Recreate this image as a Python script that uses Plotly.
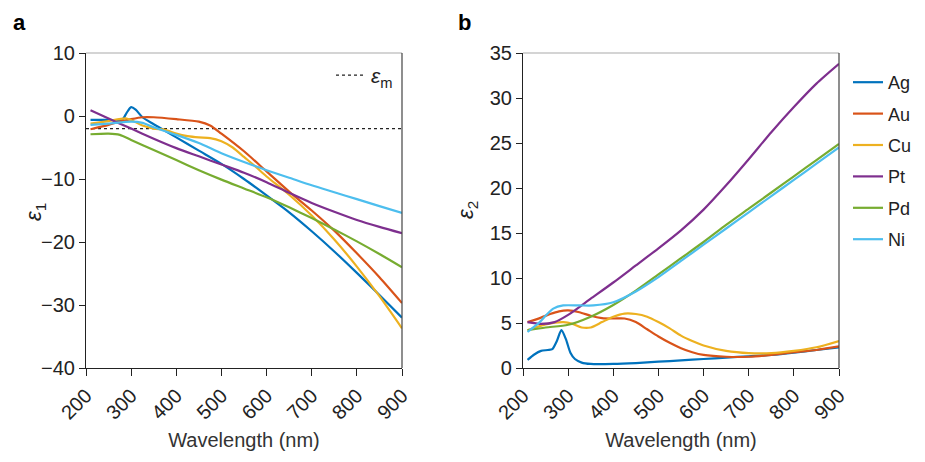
import plotly.graph_objects as go

# ---- panel a: real part eps1 ----
ag1_wl = [210, 250, 280, 290, 300, 310, 325, 350, 400, 450, 500, 550, 600, 650, 700, 750, 800, 850, 900]
ag1 = [-0.6, -0.6, -0.6, 0.5, 1.4, 1.0, -0.2, -1.3, -3.4, -5.5, -7.6, -10.0, -12.6, -15.3, -18.3, -21.5, -24.9, -28.4, -32.0]
au1_wl = [210, 250, 275, 300, 325, 350, 400, 450, 475, 500, 550, 600, 650, 700, 750, 800, 850, 900]
au1 = [-2.1, -1.4, -0.9, -0.5, -0.2, -0.2, -0.5, -0.9, -1.5, -2.8, -5.6, -8.8, -12.0, -15.0, -18.2, -21.8, -25.6, -29.7]
cu1_wl = [210, 250, 290, 325, 350, 375, 400, 425, 450, 475, 500, 525, 550, 575, 600, 650, 700, 750, 800, 850, 900]
cu1 = [-1.2, -0.8, -0.4, -1.5, -2.0, -2.2, -2.8, -3.2, -3.4, -3.5, -4.0, -5.0, -6.5, -8.0, -9.6, -12.5, -15.8, -19.6, -23.9, -28.6, -33.7]
pt1_wl = [210, 250, 300, 350, 400, 450, 500, 550, 600, 650, 700, 750, 800, 850, 900]
pt1 = [0.9, -0.4, -2.0, -3.6, -5.1, -6.4, -7.7, -9.0, -10.5, -12.2, -13.8, -15.2, -16.5, -17.6, -18.6]
pd1_wl = [210, 250, 275, 300, 350, 400, 450, 500, 550, 600, 650, 700, 750, 800, 850, 900]
pd1 = [-2.9, -2.8, -3.0, -3.8, -5.4, -7.0, -8.6, -10.1, -11.5, -12.9, -14.5, -16.2, -18.0, -19.9, -21.9, -24.0]
ni1_wl = [210, 250, 300, 325, 350, 400, 450, 500, 550, 600, 650, 700, 750, 800, 850, 900]
ni1 = [-1.4, -1.2, -0.9, -1.1, -1.8, -3.0, -4.3, -5.9, -7.3, -8.6, -9.8, -11.0, -12.1, -13.2, -14.3, -15.4]
eps_m_wl = [200, 900]
eps_m = [-2, -2]

# ---- panel b: imaginary part eps2 ----
ag2_wl = [210, 225, 240, 255, 265, 275, 285, 295, 305, 315, 330, 350, 400, 450, 500, 550, 600, 650, 700, 750, 800, 850, 900]
ag2 = [0.9, 1.5, 1.9, 2.0, 2.1, 3.0, 4.2, 3.2, 1.7, 1.0, 0.6, 0.45, 0.45, 0.55, 0.7, 0.85, 1.0, 1.15, 1.3, 1.45, 1.7, 2.0, 2.3]
au2_wl = [210, 240, 260, 280, 300, 325, 350, 375, 400, 425, 450, 475, 500, 525, 550, 575, 600, 650, 700, 750, 800, 850, 900]
au2 = [5.1, 5.6, 6.0, 6.3, 6.4, 6.2, 5.8, 5.55, 5.5, 5.5, 5.1, 4.3, 3.5, 2.8, 2.2, 1.75, 1.45, 1.25, 1.25, 1.45, 1.75, 2.0, 2.4]
cu2_wl = [210, 250, 290, 310, 330, 350, 375, 400, 425, 450, 475, 500, 525, 550, 575, 600, 650, 700, 750, 800, 850, 900]
cu2 = [4.2, 4.85, 5.1, 4.9, 4.5, 4.5, 5.1, 5.7, 6.05, 6.0, 5.7, 5.1, 4.4, 3.6, 3.0, 2.5, 1.9, 1.65, 1.65, 1.9, 2.3, 3.0]
pt2_wl = [210, 240, 270, 300, 350, 400, 450, 500, 550, 600, 650, 700, 750, 800, 850, 900]
pt2 = [5.1, 4.9, 5.1, 5.9, 7.7, 9.5, 11.4, 13.3, 15.3, 17.6, 20.3, 23.2, 26.2, 29.0, 31.6, 33.8]
pd2_wl = [210, 250, 300, 350, 400, 450, 500, 550, 600, 650, 700, 750, 800, 850, 900]
pd2 = [4.2, 4.5, 4.8, 5.7, 7.0, 8.6, 10.4, 12.2, 14.0, 15.9, 17.7, 19.5, 21.3, 23.1, 24.9]
ni2_wl = [210, 237, 250, 267, 289, 325, 356, 400, 450, 500, 550, 600, 650, 700, 750, 800, 850, 900]
ni2 = [4.0, 5.1, 5.8, 6.6, 6.95, 6.95, 6.95, 7.3, 8.5, 10.1, 11.9, 13.7, 15.5, 17.3, 19.1, 20.9, 22.7, 24.5]

metals = ['Ag', 'Au', 'Cu', 'Pt', 'Pd', 'Ni']
colors = ['#0072BD', '#D95319', '#EDB120', '#7E2F8E', '#77AC30', '#4DBEEE']
panel_a = [(ag1_wl, ag1), (au1_wl, au1), (cu1_wl, cu1), (pt1_wl, pt1), (pd1_wl, pd1), (ni1_wl, ni1)]
panel_b = [(ag2_wl, ag2), (au2_wl, au2), (cu2_wl, cu2), (pt2_wl, pt2), (pd2_wl, pd2), (ni2_wl, ni2)]

FONT = 'Liberation Sans, Arial, sans-serif'

# page body has an 8px margin, so the figure is a bit smaller than the window
W, H, OFF = 917, 454, 8


def px(x):
    return (x - OFF) / W


def py(y):
    return 1 - (y - OFF) / H


fig = go.Figure()

fig.add_trace(go.Scatter(x=eps_m_wl, y=eps_m, mode='lines', name='<i>ε</i><sub>m</sub>',
                         line=dict(color='#222222', width=1.2, dash='dot'),
                         xaxis='x', yaxis='y', legend='legend2'))

for name, c, (wl, v) in zip(metals, colors, panel_a):
    fig.add_trace(go.Scatter(x=wl, y=v, mode='lines', name=name, showlegend=False,
                             line=dict(color=c, width=2.2, shape='spline', smoothing=0.7),
                             xaxis='x', yaxis='y'))

for name, c, (wl, v) in zip(metals, colors, panel_b):
    fig.add_trace(go.Scatter(x=wl, y=v, mode='lines', name=name, legendgroup=name,
                             line=dict(color=c, width=2.2, shape='spline', smoothing=0.7),
                             xaxis='x2', yaxis='y2'))

xax = dict(range=[200, 900], tickvals=[200, 300, 400, 500, 600, 700, 800, 900],
           tickangle=-45, ticks='outside', ticklen=7, tickcolor='#222', showgrid=False,
           zeroline=False, showline=True, linecolor='#222', linewidth=1.2, automargin=False,
           tickfont=dict(size=20, color='#222'),
           title=dict(text='Wavelength (nm)', font=dict(size=20, color='#333'), standoff=10))
yax = dict(ticks='outside', ticklen=6, tickcolor='#222', showgrid=False, zeroline=False,
           showline=True, linecolor='#222', linewidth=1.2, automargin=False,
           tickfont=dict(size=20, color='#222'))

fig.update_layout(
    width=W, height=H,
    margin=dict(l=0, r=0, t=0, b=0, autoexpand=False),
    paper_bgcolor='white', plot_bgcolor='white',
    font=dict(family=FONT, color='#222'),
    xaxis=dict(xax, domain=[px(86), px(402)], anchor='y'),
    yaxis=dict(yax, domain=[py(368), py(53)], range=[-40, 10],
               tickvals=[-40, -30, -20, -10, 0, 10], anchor='x'),
    xaxis2=dict(xax, domain=[px(523), px(839)], anchor='y2'),
    yaxis2=dict(yax, domain=[py(368), py(53)], range=[0, 35],
                tickvals=[0, 5, 10, 15, 20, 25, 30, 35], anchor='x2'),
    legend=dict(x=px(848), y=py(64), xanchor='left', yanchor='top',
                tracegroupgap=5, itemwidth=30,
                font=dict(size=18, color='#222'), bgcolor='rgba(0,0,0,0)'),
    legend2=dict(x=px(331), y=py(55), xanchor='left', yanchor='top', itemwidth=30,
                 font=dict(size=21, color='#222'), bgcolor='rgba(0,0,0,0)'),
    annotations=[
        dict(text='<b>a</b>', x=px(11), y=py(22), xref='paper', yref='paper',
             xanchor='left', yanchor='middle', showarrow=False, font=dict(size=22, color='black')),
        dict(text='<b>b</b>', x=px(456), y=py(22), xref='paper', yref='paper',
             xanchor='left', yanchor='middle', showarrow=False, font=dict(size=22, color='black')),
        dict(text='<i>ε</i><sub>1</sub>', x=px(19), y=py(212), xref='paper', yref='paper',
             textangle=-90, showarrow=False, font=dict(size=22, color='#222')),
        dict(text='<i>ε</i><sub>2</sub>', x=px(467), y=py(210), xref='paper', yref='paper',
             textangle=-90, showarrow=False, font=dict(size=22, color='#222')),
    ],
    shapes=[
        # top and right frame lines of both panels
        dict(type='line', xref='x domain', yref='y domain', x0=0, x1=1, y0=1, y1=1, line=dict(color='#aaaaaa', width=1.2)),
        dict(type='line', xref='x domain', yref='y domain', x0=1, x1=1, y0=0, y1=1, line=dict(color='#444444', width=1.2)),
        dict(type='line', xref='x2 domain', yref='y2 domain', x0=0, x1=1, y0=1, y1=1, line=dict(color='#aaaaaa', width=1.2)),
        dict(type='line', xref='x2 domain', yref='y2 domain', x0=1, x1=1, y0=0, y1=1, line=dict(color='#444444', width=1.2)),
    ],
)

fig.write_html('out.html')
